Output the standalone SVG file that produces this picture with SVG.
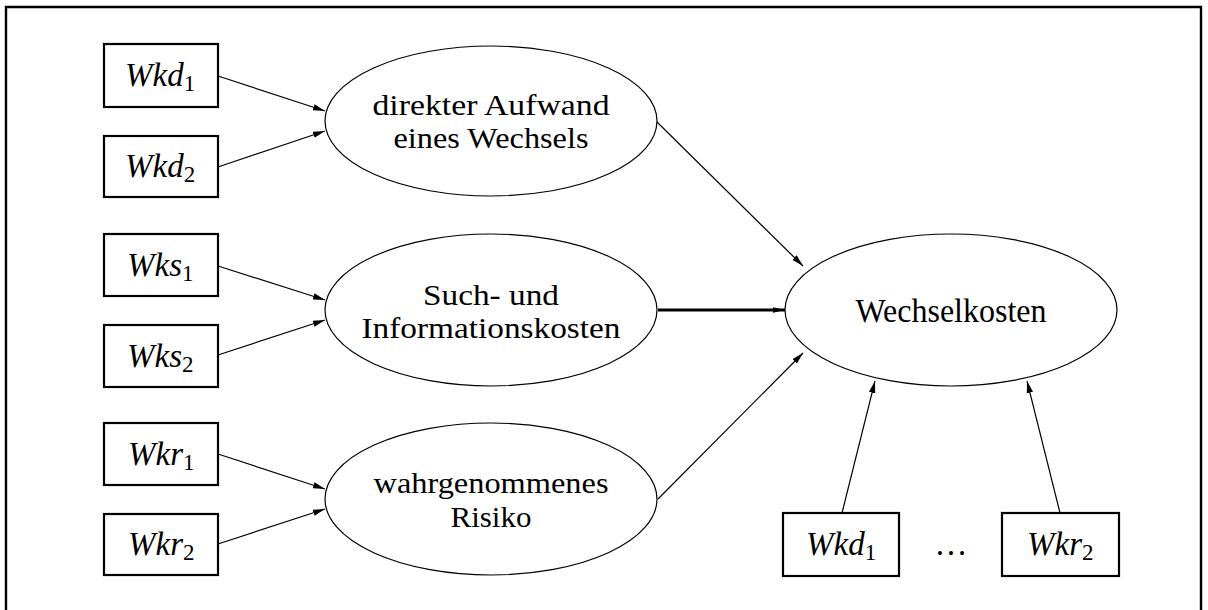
<svg xmlns="http://www.w3.org/2000/svg" width="1208" height="610" viewBox="0 0 1208 610">
<style>
.box{fill:#fff;stroke:#000;stroke-width:2.2}
.ell{fill:#fff;stroke:#000;stroke-width:1.2}
.t{font-family:"Liberation Serif","Times New Roman",serif;font-size:33px;fill:#000;text-anchor:middle}
.t2{font-family:"Liberation Serif","Times New Roman",serif;font-size:30px;fill:#000;text-anchor:middle}
.v{font-family:"Liberation Serif","Times New Roman",serif;font-size:33px;fill:#000;font-style:italic}
.s{font-style:normal;font-size:23px}
.c{stroke:#000;stroke-width:1.2;fill:none;marker-end:url(#ah)}
.ct{stroke:#000;stroke-width:2.8;fill:none;marker-end:url(#ahs)}
</style>
<defs>
<marker id="ah" viewBox="0 0 12 8" refX="12" refY="4" markerWidth="12" markerHeight="8" markerUnits="userSpaceOnUse" orient="auto">
<path d="M0,0.8 L12,4 L0,7.2 Z" fill="#000"/>
</marker>
<marker id="ahs" viewBox="0 0 12 8" refX="12" refY="4" markerWidth="12" markerHeight="8" markerUnits="userSpaceOnUse" orient="auto">
<path d="M0,1.2 L12,4 L0,6.8 Z" fill="#000"/>
</marker>
</defs>
<rect width="1208" height="610" fill="#fff"/>
<path d="M6,610 V7 H1201 V610" fill="none" stroke="#000" stroke-width="2.4"/>

<g id="connectors">
<line class="c" x1="218" y1="76" x2="325" y2="111"/>
<line class="c" x1="218" y1="167" x2="325" y2="131"/>
<line class="c" x1="218" y1="266" x2="325" y2="300"/>
<line class="c" x1="218" y1="355" x2="325" y2="320"/>
<line class="c" x1="218" y1="454" x2="325" y2="489"/>
<line class="c" x1="218" y1="544" x2="325" y2="509"/>
<line class="c" x1="657" y1="122" x2="803" y2="266"/>
<line class="ct" x1="658" y1="310" x2="785" y2="310"/>
<line class="c" x1="658" y1="499" x2="803" y2="353"/>
<line class="c" x1="842" y1="513" x2="875" y2="381"/>
<line class="c" x1="1060" y1="513" x2="1027" y2="381"/>
</g>

<g id="wkd1">
<rect class="box" x="104" y="44" width="114" height="63"/>
<text class="v" x="125" y="86">Wkd<tspan class="s" dy="5">1</tspan></text>
</g>
<g id="wkd2">
<rect class="box" x="104" y="136" width="114" height="61"/>
<text class="v" x="125" y="177">Wkd<tspan class="s" dy="5">2</tspan></text>
</g>
<g id="wks1">
<rect class="box" x="104" y="234" width="114" height="62"/>
<text class="v" x="127" y="276">Wks<tspan class="s" dy="5">1</tspan></text>
</g>
<g id="wks2">
<rect class="box" x="104" y="325" width="114" height="62"/>
<text class="v" x="127" y="367">Wks<tspan class="s" dy="5">2</tspan></text>
</g>
<g id="wkr1">
<rect class="box" x="104" y="423" width="114" height="62"/>
<text class="v" x="128" y="465">Wkr<tspan class="s" dy="5">1</tspan></text>
</g>
<g id="wkr2">
<rect class="box" x="104" y="514" width="114" height="61"/>
<text class="v" x="128" y="555">Wkr<tspan class="s" dy="5">2</tspan></text>
</g>

<g id="aufwand">
<ellipse class="ell" cx="491" cy="121" rx="166" ry="75"/>
<text class="t2" x="491" y="115" textLength="237" lengthAdjust="spacingAndGlyphs">direkter Aufwand</text>
<text class="t2" x="491" y="148" textLength="195" lengthAdjust="spacingAndGlyphs">eines Wechsels</text>
</g>
<g id="suchkosten">
<ellipse class="ell" cx="491" cy="310" rx="166" ry="76"/>
<text class="t2" x="491" y="305" textLength="136" lengthAdjust="spacingAndGlyphs">Such- und</text>
<text class="t2" x="491" y="338" textLength="259" lengthAdjust="spacingAndGlyphs">Informationskosten</text>
</g>
<g id="risiko">
<ellipse class="ell" cx="491" cy="499" rx="166" ry="76"/>
<text class="t2" x="491" y="493" textLength="235" lengthAdjust="spacingAndGlyphs">wahrgenommenes</text>
<text class="t2" x="491" y="527" textLength="81" lengthAdjust="spacingAndGlyphs">Risiko</text>
</g>
<g id="wechselkosten">
<ellipse class="ell" cx="951" cy="310" rx="166" ry="76"/>
<text class="t" x="951" y="322" textLength="191" lengthAdjust="spacingAndGlyphs">Wechselkosten</text>
</g>

<g id="bwkd1">
<rect class="box" x="783" y="513" width="116" height="63"/>
<text class="v" x="806" y="555">Wkd<tspan class="s" dy="5">1</tspan></text>
</g>
<text class="t" x="951" y="555">…</text>
<g id="bwkr2">
<rect class="box" x="1002" y="513" width="117" height="63"/>
<text class="v" x="1027" y="555">Wkr<tspan class="s" dy="5">2</tspan></text>
</g>
</svg>
